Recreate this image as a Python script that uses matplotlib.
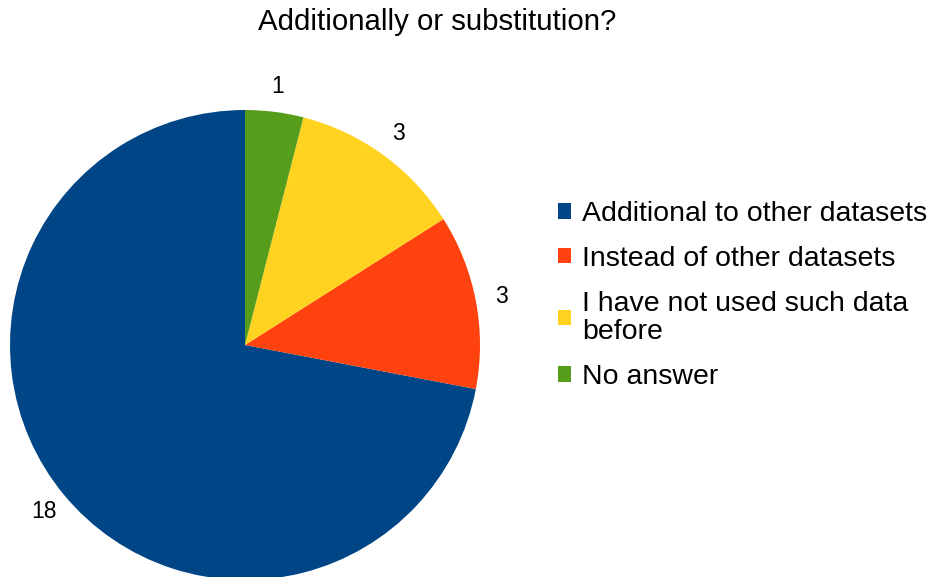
import numpy as np
import matplotlib.pyplot as plt

labels = ["Additional to other datasets", "Instead of other datasets",
          "I have not used such data\nbefore", "No answer"]
counts = [18, 3, 3, 1]
colors = ["#004586", "#ff420e", "#ffd320", "#579d1c"]

plt.rcParams['font.family'] = ['Liberation Sans', 'DejaVu Sans']

W, H = 935, 577
fig = plt.figure(figsize=(W / 100, H / 100), dpi=100)

# pie centre (245, 345) px, radius 235 px
cx, cy, r = 245, 345, 235
ax = fig.add_axes([(cx - r) / W, (H - cy - r) / H, 2 * r / W, 2 * r / H])
wedges, texts = ax.pie(counts, colors=colors, startangle=90, counterclock=True,
                       labels=[str(c) for c in counts], labeldistance=1.11,
                       textprops={'fontsize': 16.5})
for t in texts:
    t.set_ha('center')
    t.set_va('center')
ax.set_xlim(-1, 1)
ax.set_ylim(-1, 1)
ax.set_aspect('equal')
ax.axis('off')

fig.text(437 / W, 1 - 22 / H, "Additionally or substitution?", ha='center',
         va='center', fontsize=21.2)

leg = fig.legend(wedges, labels, loc='upper left',
                 bbox_to_anchor=(558 / W, 1 - 201 / H), frameon=False,
                 borderpad=0, borderaxespad=0,
                 fontsize=20.5, handlelength=0.45, handleheight=0.45,
                 handletextpad=0.4, labelspacing=0.66)
for t in leg.get_texts():
    t.set_linespacing(1.14)

fig.savefig("out.png", dpi=100)
